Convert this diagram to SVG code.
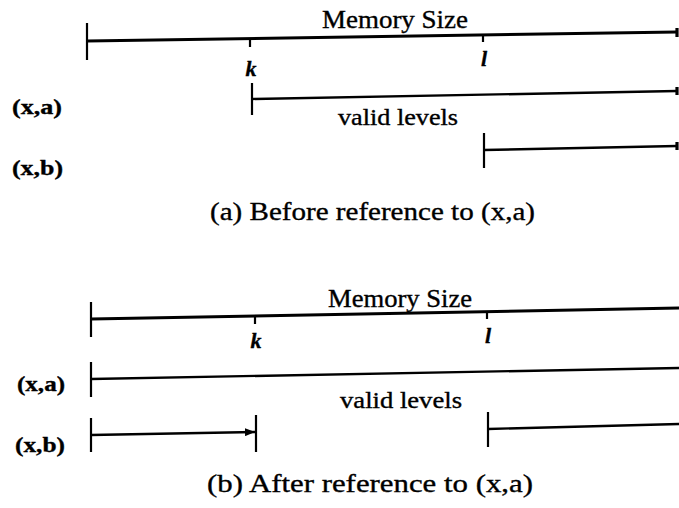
<svg xmlns="http://www.w3.org/2000/svg" width="679" height="508" viewBox="0 0 679 508">
  <style>
    .bar { stroke: #000; fill: none; stroke-linecap: butt; }
    .mem { stroke-width: 3; }
    .lvl { stroke-width: 2.4; }
    .tick { stroke: #000; stroke-width: 2.2; }
    .cap { stroke: #000; stroke-width: 3.2; }
    .txt { font-family: "Liberation Serif", "Times New Roman", serif; fill: #000; stroke: #000; stroke-width: 0.35; }
    .title { font-size: 25px; }
    .mark { font-size: 22px; font-style: italic; font-weight: bold; text-anchor: middle; }
    .item { font-size: 22px; font-weight: bold; }
    .note { font-size: 23px; }
    .caption { font-size: 26px; }
  </style>
  <defs>
    <marker id="arrow" viewBox="0 0 10 8" refX="10" refY="4" markerWidth="10" markerHeight="8" markerUnits="userSpaceOnUse" orient="auto">
      <path d="M0,0 L10,4 L0,8 Z" fill="#000"/>
    </marker>
  </defs>

  <!-- Panel (a): before the reference -->
  <g id="panel-a">
    <g id="a-memory">
      <line class="bar mem" x1="87" y1="41" x2="677" y2="32"/>
      <line class="tick" x1="87" y1="23" x2="87" y2="60"/>
      <line class="cap" x1="677" y1="28" x2="677" y2="37"/>
      <text class="txt title" x="322" y="28" textLength="146" lengthAdjust="spacingAndGlyphs">Memory Size</text>
    </g>
    <g id="a-k">
      <line class="tick" x1="250" y1="39" x2="250" y2="47"/>
      <text class="txt mark" x="251" y="76">k</text>
    </g>
    <g id="a-l">
      <line class="tick" x1="483" y1="35" x2="483" y2="42"/>
      <text class="txt mark" x="484" y="66">l</text>
    </g>
    <g id="a-xa">
      <text class="txt item" x="12" y="114" textLength="50" lengthAdjust="spacingAndGlyphs">(x,a)</text>
      <line class="bar lvl" x1="252" y1="99" x2="677" y2="91"/>
      <line class="tick" x1="252" y1="83" x2="252" y2="115"/>
      <line class="cap" x1="677" y1="87" x2="677" y2="95"/>
    </g>
    <text id="a-valid" class="txt note" x="338" y="125" textLength="120" lengthAdjust="spacingAndGlyphs">valid levels</text>
    <g id="a-xb">
      <text class="txt item" x="12" y="175" textLength="51" lengthAdjust="spacingAndGlyphs">(x,b)</text>
      <line class="bar lvl" x1="484" y1="150" x2="677" y2="146"/>
      <line class="tick" x1="484" y1="133" x2="484" y2="168"/>
      <line class="cap" x1="677" y1="142" x2="677" y2="150"/>
    </g>
    <text id="a-caption" class="txt caption" x="210" y="220" textLength="325" lengthAdjust="spacingAndGlyphs">(a) Before reference to (x,a)</text>
  </g>

  <!-- Panel (b): after the reference -->
  <g id="panel-b">
    <g id="b-memory">
      <line class="bar mem" x1="91" y1="319" x2="679" y2="308"/>
      <line class="tick" x1="91" y1="302" x2="91" y2="337"/>
      <text class="txt title" x="328" y="307" textLength="144" lengthAdjust="spacingAndGlyphs">Memory Size</text>
    </g>
    <g id="b-k">
      <line class="tick" x1="255" y1="316" x2="255" y2="324"/>
      <text class="txt mark" x="256" y="348">k</text>
    </g>
    <g id="b-l">
      <line class="tick" x1="487" y1="312" x2="487" y2="319"/>
      <text class="txt mark" x="488" y="343">l</text>
    </g>
    <g id="b-xa">
      <text class="txt item" x="17" y="391" textLength="48" lengthAdjust="spacingAndGlyphs">(x,a)</text>
      <line class="bar lvl" x1="91" y1="379" x2="679" y2="368"/>
      <line class="tick" x1="91" y1="362" x2="91" y2="397"/>
    </g>
    <text id="b-valid" class="txt note" x="340" y="408" textLength="122" lengthAdjust="spacingAndGlyphs">valid levels</text>
    <g id="b-xb">
      <text class="txt item" x="15" y="452" textLength="50" lengthAdjust="spacingAndGlyphs">(x,b)</text>
      <line class="tick" x1="91" y1="418" x2="91" y2="452"/>
      <line class="tick" x1="256" y1="415" x2="256" y2="452"/>
      <line class="tick" x1="488" y1="412" x2="488" y2="447"/>
    </g>
    <g id="connectors">
      <line class="bar lvl" x1="91" y1="435" x2="255" y2="432" marker-end="url(#arrow)"/>
      <line class="bar lvl" x1="488" y1="429" x2="679" y2="424"/>
    </g>
    <text id="b-caption" class="txt caption" x="207" y="492" textLength="326" lengthAdjust="spacingAndGlyphs">(b) After reference to (x,a)</text>
  </g>
</svg>
